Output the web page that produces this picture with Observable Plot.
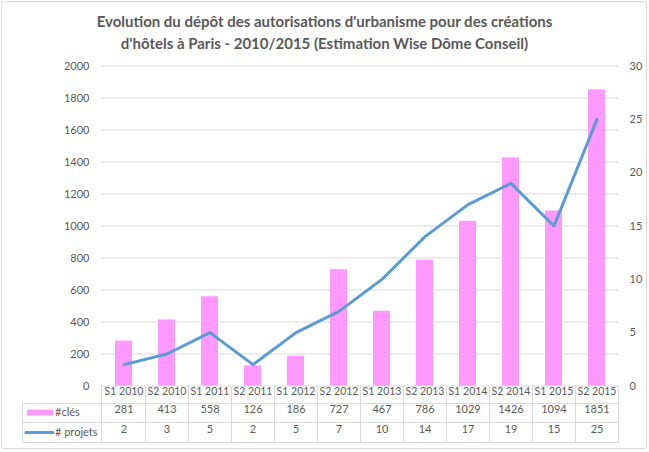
<!DOCTYPE html>
<html>
<head>
<meta charset="utf-8">
<script src="https://cdn.jsdelivr.net/npm/d3@7"></script>
<script src="https://cdn.jsdelivr.net/npm/@observablehq/plot@0.6"></script>
<style>
  html, body { margin: 0; padding: 0; background: #fff; }
  #wrap { position: relative; width: 649px; height: 452px; }
  svg { font-family: Lato, "Open Sans", sans-serif; }
</style>
</head>
<body>
<div id="wrap"></div>
<script>
const titleLines = [
  "Evolution du dépôt des autorisations d'urbanisme pour des créations",
  "d'hôtels à Paris - 2010/2015 (Estimation Wise Dôme Conseil)"
];
const categories = ["S1 2010","S2 2010","S1 2011","S2 2011","S1 2012","S2 2012","S1 2013","S2 2013","S1 2014","S2 2014","S1 2015","S2 2015"];
const cles = [281, 413, 558, 126, 186, 727, 467, 786, 1029, 1426, 1094, 1851];
const projets = [2, 3, 5, 2, 5, 7, 10, 14, 17, 19, 15, 25];
const seriesNames = ["#clés", "# projets"];
const leftTicks = [0, 200, 400, 600, 800, 1000, 1200, 1400, 1600, 1800, 2000];
const rightTicks = [0, 5, 10, 15, 20, 25, 30];

const pink = "#FF99FF";
const blue = "#5B9BD5";
const grid = "#D9D9D9";
const textColor = "#595959";
const k = 2000 / 30; // right axis -> left axis units

const plot = Plot.plot({
  width: 649,
  height: 452,
  marginLeft: 101,
  marginRight: 31,
  marginTop: 65.5,
  marginBottom: 66.5,
  style: { fontFamily: "Lato, 'Open Sans', sans-serif", fontSize: "11px", color: textColor, background: "#fff" },
  x: { type: "band", domain: categories, padding: 0, axis: null },
  y: { domain: [0, 2000], axis: null },
  marks: [
    Plot.ruleY(leftTicks, { stroke: grid, strokeWidth: 1 }),
    Plot.barY(categories, { x: d => d, y: (d, i) => cles[i], fill: pink, insetLeft: 13, insetRight: 13 }),
    Plot.line(categories, { x: d => d, y: (d, i) => projets[i] * k, stroke: blue, strokeWidth: 3, strokeLinejoin: "round", strokeLinecap: "round" }),
    Plot.text(leftTicks, { y: d => d, text: d => String(d), frameAnchor: "left", dx: -12, textAnchor: "end", fill: textColor }),
    Plot.text(rightTicks, { y: d => d * k, text: d => String(d), frameAnchor: "right", dx: 11, textAnchor: "start", fill: textColor }),
    Plot.text(categories, { x: d => d, text: d => d, frameAnchor: "bottom", dy: 8.5, fill: textColor, fontSize: 10.5 }),
    Plot.text(categories, { x: d => d, text: (d, i) => String(cles[i]), frameAnchor: "bottom", dy: 27, fill: textColor }),
    Plot.text(categories, { x: d => d, text: (d, i) => String(projets[i]), frameAnchor: "bottom", dy: 46.5, fill: textColor })
  ]
});

document.getElementById("wrap").appendChild(plot);

// Data table grid and legend, positioned with Plot's own x scale
const svg = d3.select(plot);
const xs = plot.scale("x");
const [x0, x1] = xs.range;
const bw = xs.bandwidth;
const yTop = 385.5, yRow1 = 403.5, yRow2 = 422.5, yBottom = 442.5, xLeg = 22.5;
const g = svg.append("g").attr("stroke", grid).attr("stroke-width", 1).attr("fill", "none");
const xb = [x0, ...categories.map(c => xs.apply(c) + bw)];
xb.forEach(xv => {
  const xx = Math.round(xv) + 0.5;
  g.append("line").attr("x1", xx).attr("x2", xx).attr("y1", yTop).attr("y2", yBottom);
});
g.append("line").attr("x1", xLeg).attr("x2", xLeg).attr("y1", yRow1).attr("y2", yBottom);
[yRow1, yRow2, yBottom].forEach(yy => {
  g.append("line").attr("x1", xLeg).attr("x2", Math.round(x1) + 0.5).attr("y1", yy).attr("y2", yy);
});
// legend keys
svg.append("rect").attr("x", 27).attr("y", 409.5).attr("width", 26).attr("height", 6).attr("fill", pink);
svg.append("line").attr("x1", 26).attr("x2", 53).attr("y1", 432.5).attr("y2", 432.5)
  .attr("stroke", blue).attr("stroke-width", 3).attr("stroke-linecap", "round");
seriesNames.forEach((s, i) => {
  svg.append("text").attr("x", 55).attr("y", i ? 432.5 : 412.5).attr("dy", "0.32em")
    .attr("text-anchor", "start").attr("fill", textColor).attr("font-size", 11).text(s);
});

// title
titleLines.forEach((t, i) => {
  svg.append("text").attr("x", 324.5).attr("y", 22 + i * 21.5).attr("dy", "0.35em")
    .attr("text-anchor", "middle").attr("font-weight", "bold").attr("font-size", 15)
    .attr("fill", textColor).text(t);
});

// outer chart border
svg.append("rect").attr("x", 1.5).attr("y", 1.5).attr("width", 645).attr("height", 447)
  .attr("rx", 2).attr("fill", "none").attr("stroke", grid);
</script>
</body>
</html>
